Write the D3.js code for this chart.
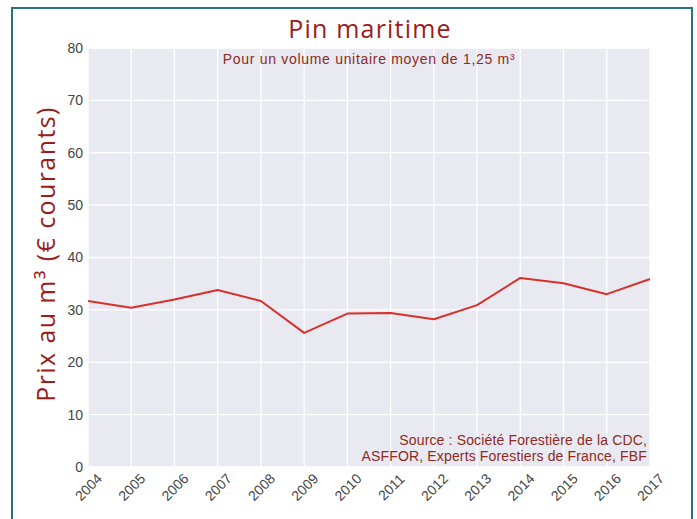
<!DOCTYPE html>
<html><head><meta charset="utf-8">
<script src="https://cdn.jsdelivr.net/npm/d3@7"></script>
<style>html,body{margin:0;padding:0;background:#fff;}svg{display:block;}</style>
</head><body>
<script>
const years = [2004,2005,2006,2007,2008,2009,2010,2011,2012,2013,2014,2015,2016,2017];
const prices = [31.7,30.4,32.0,33.8,31.7,25.6,29.3,29.4,28.2,30.9,36.1,35.1,33.0,35.9];
const yTicks = [0,10,20,30,40,50,60,70,80];
const titleText = "Pin maritime";
const subtitleText = "Pour un volume unitaire moyen de 1,25 m³";
const yLabelText = "Prix au m³ (€ courants)";
const sourceLines = ["Source : Société Forestière de la CDC,", "ASFFOR, Experts Forestiers de France, FBF"];

(function(){
const W = 697, H = 519;
const svg = d3.select("body").append("svg").attr("width", W).attr("height", H);
const dark = "#9a1d1a";

// frame
svg.append("rect").attr("x", 12).attr("y", 8).attr("width", 680).attr("height", 530)
  .attr("fill", "#fff").attr("stroke", "#2a7383").attr("stroke-width", 2);

const pL = 88, pR = 650, pT = 48, pB = 467;
const x = d3.scaleLinear().domain([years[0], years[years.length-1]]).range([pL, pR]);
const y = d3.scaleLinear().domain([0, 80]).range([pB, pT]);

svg.append("rect").attr("x", pL).attr("y", pT).attr("width", pR-pL).attr("height", pB-pT)
  .attr("fill", "#e9e9f1");

const g = svg.append("g");
g.selectAll("line.vg").data(years).join("line").attr("class","vg")
  .attr("x1", d=>x(d)).attr("x2", d=>x(d)).attr("y1", pT).attr("y2", pB)
  .attr("stroke", "#fff").attr("stroke-width", 1.3);
g.selectAll("line.hg").data(yTicks).join("line").attr("class","hg")
  .attr("x1", pL).attr("x2", pR).attr("y1", d=>y(d)).attr("y2", d=>y(d))
  .attr("stroke", "#fff").attr("stroke-width", 1.3);

// y tick labels
const yAxis = d3.axisLeft(y).tickValues(yTicks).tickSize(0).tickPadding(5);
const ya = svg.append("g").attr("transform", `translate(${pL},0)`).call(yAxis);
ya.select(".domain").remove();
ya.selectAll("text").attr("font-family", "Liberation Sans, Arial, sans-serif")
  .attr("font-size", 14).attr("fill", "#444");

// x tick labels
const xAxis = d3.axisBottom(x).tickValues(years).tickFormat(d3.format("d")).tickSize(0);
const xa = svg.append("g").attr("transform", `translate(0,${pB})`).call(xAxis);
xa.select(".domain").remove();
xa.selectAll("text").attr("font-family", "Liberation Sans, Arial, sans-serif")
  .attr("font-size", 14).attr("fill", "#444")
  .attr("text-anchor", "middle").attr("dy", null).attr("y", 0)
  .attr("transform", "translate(1,21) rotate(-45)").attr("dominant-baseline", "middle");

// line
const line = d3.line().x((d,i)=>x(years[i])).y(d=>y(d));
svg.append("path").datum(prices).attr("d", line).attr("fill","none")
  .attr("stroke", "#d8302b").attr("stroke-width", 2).attr("stroke-linejoin","round");

// title
svg.append("text").attr("x", 370).attr("y", 38).attr("text-anchor","middle")
  .attr("font-family", "Open Sans, sans-serif").attr("font-size", 25).attr("letter-spacing", 1.2)
  .attr("fill", dark).text(titleText);
svg.append("text").attr("x", 369).attr("y", 64).attr("text-anchor","middle")
  .attr("font-family", "Liberation Sans, Arial, sans-serif").attr("font-size", 14).attr("letter-spacing", 0.7)
  .attr("fill", "#8e2a1e").text(subtitleText);

// y label
svg.append("text").attr("transform", "translate(55,254) rotate(-90)").attr("text-anchor","middle")
  .attr("font-family", "Open Sans, sans-serif").attr("font-size", 25).attr("letter-spacing", 1.4)
  .attr("fill", dark).text(yLabelText);

// source
svg.append("g").selectAll("text").data(sourceLines).join("text")
  .attr("x", 647).attr("y", (d,i)=>445 + i*16).attr("text-anchor","end")
  .attr("font-family", "Liberation Sans, Arial, sans-serif").attr("font-size", 14).attr("letter-spacing", 0.15)
  .attr("fill", "#8e2a1e").text(d=>d);
})();
</script>
</body></html>
